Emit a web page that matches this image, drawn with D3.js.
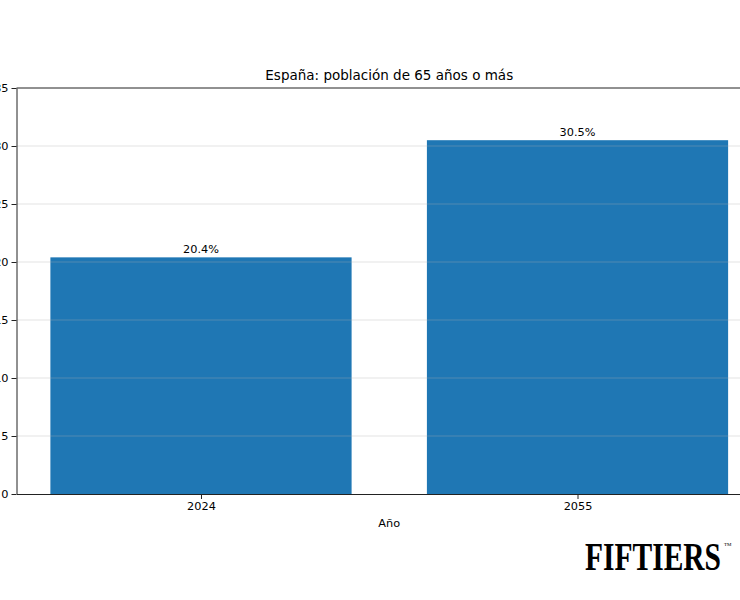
<!DOCTYPE html>
<html>
<head>
<meta charset="utf-8">
<script src="https://cdn.jsdelivr.net/npm/d3@7"></script>
<style>
    body { margin: 0; background: #fff; }
    text { font-family: "DejaVu Sans", sans-serif; fill: #000; }
    .axis path, .axis line { stroke: #222; }
    .gridLines line { stroke: #b0b0b0; stroke-opacity: 0.35; }
</style>
</head>
<body>
<script>
(function(){

    //chart data
    var years = ["2024", "2055"];
    var shares = [20.4, 30.5];
    var yTicks = [0, 5, 10, 15, 20, 25, 30, 35];

    window.onload = setChart();

    function setChart(){

        //frame dimensions (plot area runs past the right edge, like the reference)
        var width = 740,
            height = 600,
            plotLeft = 16.5,
            plotRight = 762,
            plotTop = 88,
            plotBottom = 494;

        var svg = d3.select("body")
            .append("svg")
            .attr("width", width)
            .attr("height", height);

        //linear x scale in category units, matplotlib style margins
        var xScale = d3.scaleLinear()
            .domain([-0.49, 1.49])
            .range([plotLeft, plotRight]);

        var yScale = d3.scaleLinear()
            .domain([0, 35])
            .range([plotBottom, plotTop]);

        var barWidth = xScale(0.8) - xScale(0);

        //bars
        svg.selectAll(".bars")
            .data(shares)
            .enter()
            .append("rect")
            .attr("class", "bars")
            .attr("x", function(d, i){ return xScale(i) - barWidth / 2; })
            .attr("width", barWidth)
            .attr("y", function(d){ return yScale(d); })
            .attr("height", function(d){ return yScale(0) - yScale(d); })
            .style("fill", "#1f77b4");

        //horizontal grid lines drawn over the bars
        svg.append("g")
            .attr("class", "gridLines")
            .selectAll("line")
            .data(yTicks.slice(1, -1))
            .enter()
            .append("line")
            .attr("x1", plotLeft)
            .attr("x2", plotRight)
            .attr("y1", function(d){ return yScale(d); })
            .attr("y2", function(d){ return yScale(d); });

        //bar value labels
        svg.selectAll(".barLabel")
            .data(shares)
            .enter()
            .append("text")
            .attr("class", "barLabel")
            .attr("x", function(d, i){ return xScale(i); })
            .attr("y", function(d){ return yScale(d) - 4; })
            .attr("text-anchor", "middle")
            .style("font-size", "11.3px")
            .text(function(d){ return d.toFixed(1) + "%"; });

        //y axis
        var yAxis = d3.axisLeft(yScale)
            .tickValues(yTicks)
            .tickSize(5)
            .tickPadding(3)
            .tickSizeOuter(0);

        svg.append("g")
            .attr("class", "axis")
            .attr("transform", "translate(" + plotLeft + ",0)")
            .call(yAxis)
            .selectAll("text")
            .style("font-size", "11.3px");

        //x axis
        var xAxis = d3.axisBottom(xScale)
            .tickValues([0, 1])
            .tickFormat(function(d){ return years[d]; })
            .tickSize(5)
            .tickPadding(3)
            .tickSizeOuter(0);

        svg.append("g")
            .attr("class", "axis")
            .attr("transform", "translate(0," + plotBottom + ")")
            .call(xAxis)
            .selectAll("text")
            .style("font-size", "11.3px");

        //top spine
        svg.append("line")
            .attr("x1", plotLeft)
            .attr("x2", plotRight)
            .attr("y1", plotTop)
            .attr("y2", plotTop)
            .style("stroke", "#222");

        //title
        svg.append("text")
            .attr("x", (plotLeft + plotRight) / 2)
            .attr("y", 80)
            .attr("text-anchor", "middle")
            .style("font-size", "13.5px")
            .text("España: población de 65 años o más");

        //x axis label
        svg.append("text")
            .attr("x", (plotLeft + plotRight) / 2)
            .attr("y", 527)
            .attr("text-anchor", "middle")
            .style("font-size", "11.3px")
            .text("Año");

        //logo
        svg.append("text")
            .attr("x", 585)
            .attr("y", 570)
            .attr("textLength", 136)
            .attr("lengthAdjust", "spacingAndGlyphs")
            .style("font-family", "'Liberation Serif', serif")
            .style("font-weight", "bold")
            .style("font-size", "40px")
            .text("FIFTIERS");

        svg.append("text")
            .attr("x", 724)
            .attr("y", 546)
            .style("font-family", "'Liberation Serif', serif")
            .style("font-size", "5px")
            .text("TM");
    };

})();
</script>
</body>
</html>
